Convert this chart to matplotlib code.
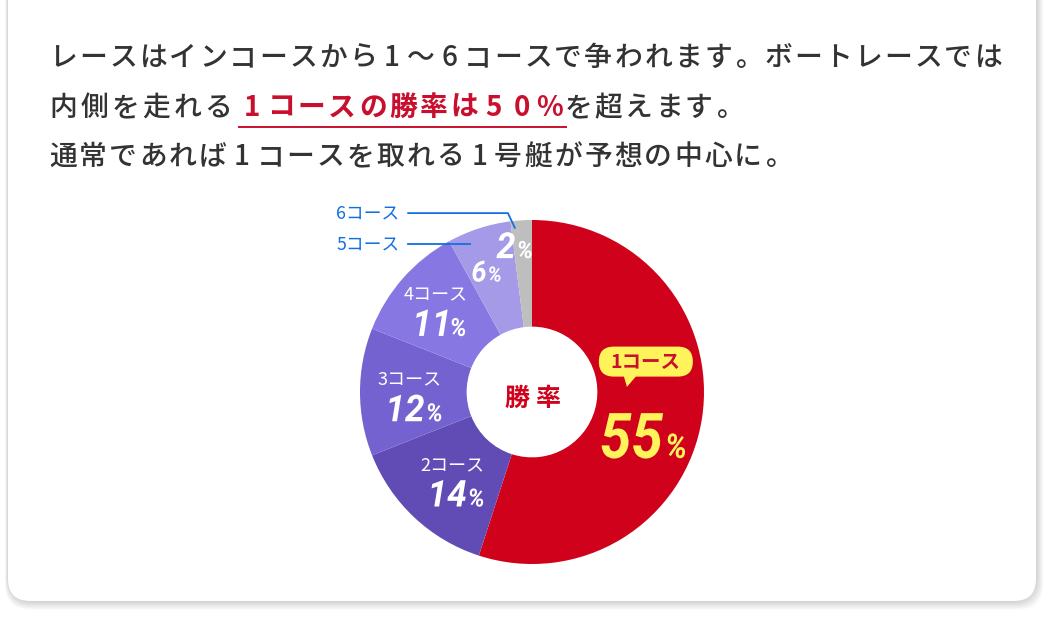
import matplotlib
matplotlib.use("Agg")
import matplotlib.pyplot as plt
import numpy as np
from matplotlib.patches import FancyBboxPatch, Polygon, PathPatch
from matplotlib.textpath import TextPath
from matplotlib.font_manager import FontProperties
from matplotlib.transforms import Affine2D

JP = ["Noto Sans CJK JP", "DejaVu Sans"]
NUM_FONT = FontProperties(family=["Roboto", "DejaVu Sans"], weight="bold", style="italic")

# data
courses = ["1コース", "2コース", "3コース", "4コース", "5コース", "6コース"]
win_rate = [55, 14, 12, 11, 6, 2]
colors = ["#D0021B", "#604CB4", "#7562D1", "#8777E2", "#A49AE8", "#BEBEBE"]
# (text, colour, weight, full-width pitch px, extra gap before)
lines = [
    [("レースはインコースから1～6コースで争われます。ボートレースでは", "#333333", "medium", 30, 0)],
    [("内側を走れる", "#333333", "medium", 31, 0),
     ("1コースの勝率は50%", "#C8102E", "bold", 30.5, 4),
     ("を超えます。", "#333333", "medium", 30, 0)],
    [("通常であれば1コースを取れる1号艇が予想の中心に。", "#333333", "medium", 30, 0)],
]
center_label = "勝率"

W, H = 1052, 617
fig = plt.figure(figsize=(W / 100, H / 100), dpi=100)
fig.patch.set_facecolor("white")
bg = fig.add_axes([0, 0, 1, 1])
bg.set_xlim(0, W)
bg.set_ylim(H, 0)
bg.axis("off")

# card with soft shadow
for k in range(1, 16):
    bg.add_patch(FancyBboxPatch((8 - k * 0.2, -40 + k * 0.6), 1028 + k * 0.7, 641,
                                boxstyle="round,pad=0,rounding_size=26",
                                fc="black", ec="none", alpha=0.012))
bg.add_patch(FancyBboxPatch((8, -40), 1028, 641,
                            boxstyle="round,pad=0,rounding_size=22",
                            fc="white", ec="none"))


def put_line(ax, x0, y, segments, size=20):
    x = x0
    spans = []
    for text, color, weight, pitch, pad in segments:
        x += pad
        start = x
        for ch in text:
            w = pitch - 2.5 if ch.isascii() else pitch
            if ch == "。":
                ax.text(x + 3, y, ch, ha="left", va="baseline", fontsize=size,
                        color=color, fontweight=weight, family=JP)
            else:
                ax.text(x + w / 2, y, ch, ha="center", va="baseline", fontsize=size,
                        color=color, fontweight=weight, family=JP)
            x += w
        spans.append((start, x, color, weight))
    return spans


baselines = [66, 116, 165]
for segs, yb in zip(lines, baselines):
    spans = put_line(bg, 48, yb, segs)
    for s, e, c, wt in spans:
        if wt == "bold":
            bg.plot([s, e + 3], [yb + 11, yb + 11], color=c, lw=1.4,
                    solid_capstyle="butt")

# donut
cx, cy, R = 532, 392, 172
ax = fig.add_axes([(cx - R) / W, (H - cy - R) / H, 2 * R / W, 2 * R / H])
wedges, _ = ax.pie(win_rate, colors=colors, startangle=90, counterclock=False,
                   radius=1, wedgeprops=dict(width=0.62, edgecolor="none"))
ax.set_xlim(-1, 1)
ax.set_ylim(-1, 1)
ax.set_aspect("equal")
ax.axis("off")

px = 1 / R  # one pixel in data units

for j, ch in enumerate(center_label):
    ax.text((j - 0.5) * 31 * px, -0.04, ch, ha="center", va="center", fontsize=18,
            fontweight="bold", color="#D0021B", family=JP)


def pct(ax, x, y, num, em_num, em_pct, color, sx=0.95):
    """Italic number + smaller % sign, centred on x, baseline y."""
    p1 = TextPath((0, 0), num, size=1, prop=NUM_FONT)
    p2 = TextPath((0, 0), "%", size=1, prop=NUM_FONT)
    w1 = p1.get_extents().x1 * em_num * sx
    w2 = p2.get_extents().x1 * em_pct * sx
    gap = 2 * px
    x0 = x - (w1 + gap + w2) / 2
    for p, em, xo in ((p1, em_num, x0), (p2, em_pct, x0 + w1 + gap)):
        tr = Affine2D().scale(em * sx, em).translate(xo, y) + ax.transData
        ax.add_patch(PathPatch(p, transform=tr, fc=color, ec="none", clip_on=False))


label_r = [0.66, 0.68, 0.71, 0.75, 0.77, 0.87]
for i, (wdg, name, val) in enumerate(zip(wedges, courses, win_rate)):
    th = np.deg2rad((wdg.theta1 + wdg.theta2) / 2)
    lx, ly = label_r[i] * np.cos(th), label_r[i] * np.sin(th)
    if i == 0:
        # yellow speech bubble + big number
        bx, by = lx + 0.01, ly + 0.28
        bw, bh = 94 * px, 30 * px
        ax.add_patch(FancyBboxPatch((bx - bw / 2, by - bh / 2), bw, bh,
                                    boxstyle="round,pad=0,rounding_size=0.087",
                                    fc="#FFF35C", ec="none"))
        ax.add_patch(Polygon([[bx - 0.13, by - bh / 2 + 0.01],
                              [bx - 0.05, by - bh / 2 + 0.01],
                              [bx - 0.11, by - bh / 2 - 0.06]],
                             closed=True, fc="#FFF35C", ec="none"))
        ax.text(bx, by - 0.005, name, ha="center", va="center", fontsize=14,
                fontweight="bold", color="#C8102E", family=JP)
        pct(ax, lx - 0.01, ly - 0.28, str(val), 63 * px, 34 * px, "#FFF35C", sx=0.9)
    elif i in (1, 2, 3):
        ax.text(lx, ly + 0.02, name, ha="center", va="bottom", fontsize=13,
                color="white", family=JP)
        pct(ax, lx + 0.02, ly - 0.17, str(val), 37 * px, 25 * px, "white")
    elif i == 4:
        pct(ax, lx - 0.03, ly - 0.09, str(val), 29 * px, 21 * px, "white")
    else:
        pct(ax, lx - 0.05, ly - 0.09, str(val), 36 * px, 24 * px, "white")

# leader labels for the small slices
blue = "#1170E0"
ax.plot([-0.72, -0.14, -0.10], [1.04, 1.04, 0.955], color=blue, lw=1.3,
        clip_on=False)
ax.plot([-0.72, -0.36], [0.86, 0.86], color=blue, lw=1.3, clip_on=False)
ax.text(-0.77, 1.04, courses[5], ha="right", va="center", fontsize=12.8,
        color=blue, family=JP)
ax.text(-0.77, 0.86, courses[4], ha="right", va="center", fontsize=12.8,
        color=blue, family=JP)

fig.savefig("out.png", dpi=100, facecolor="white")
